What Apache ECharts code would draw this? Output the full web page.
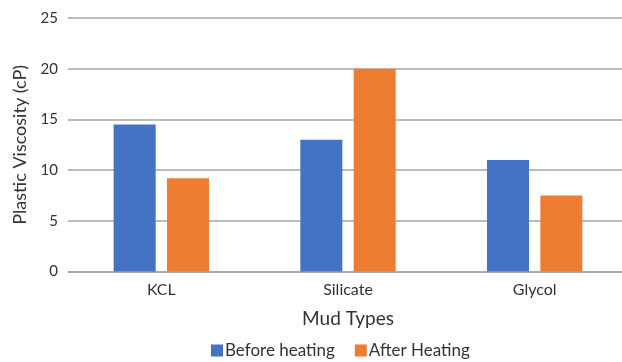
<!DOCTYPE html>
<html>
<head>
<meta charset="utf-8">
<script src="https://cdn.jsdelivr.net/npm/echarts@6/dist/echarts.min.js"></script>
<style>
  html, body { margin: 0; padding: 0; background: #fff; }
  #chart { width: 622px; height: 362px; }
</style>
</head>
<body>
<div id="chart"></div>
<script>
// Mud types on the x axis
const mudTypes = ['KCL', 'Silicate', 'Glycol'];
// Plastic viscosity (cP) before and after heating
const beforeHeating = [14.5, 13, 11];
const afterHeating = [9.2, 20, 7.5];
// Y axis range
const yMin = 0, yMax = 25, yStep = 5;

const font = 'Lato, "Open Sans", sans-serif';
const textColor = '#333333';

const chart = echarts.init(document.getElementById('chart'), null, { renderer: 'canvas' });
chart.setOption({
  animation: false,
  textStyle: { fontFamily: font },
  grid: { left: 68, top: 18, width: 560, height: 253.5, containLabel: false, outerBoundsMode: 'none' },
  legend: {
    top: 342,
    left: 211,
    padding: 0,
    itemWidth: 12,
    itemHeight: 12,
    itemGap: 20,
    icon: 'rect',
    textStyle: { fontFamily: font, fontSize: 17, color: textColor, padding: [0, 0, 0, -3] },
    data: ['Before heating', 'After Heating']
  },
  xAxis: {
    type: 'category',
    data: mudTypes,
    name: 'Mud Types',
    nameLocation: 'middle',
    nameGap: 38,
    nameTextStyle: { fontFamily: font, fontSize: 19, color: textColor },
    axisLine: { lineStyle: { color: '#A6A6A6', width: 1.5 } },
    axisTick: { show: false },
    axisLabel: { fontFamily: font, fontSize: 16, color: textColor, margin: 10 }
  },
  yAxis: {
    type: 'value',
    min: yMin,
    max: yMax,
    interval: yStep,
    name: 'Plastic Viscosity (cP)',
    nameLocation: 'middle',
    nameGap: 39,
    nameTextStyle: { fontFamily: font, fontSize: 18, color: textColor },
    axisLine: { show: false },
    axisTick: { show: false },
    axisLabel: { fontFamily: font, fontSize: 15, color: textColor, margin: 10 },
    splitLine: { lineStyle: { color: '#A6A6A6', width: 1.5 } }
  },
  series: [
    {
      name: 'Before heating',
      type: 'bar',
      data: beforeHeating,
      barWidth: 42,
      barGap: '27%',
      itemStyle: { color: '#4472C4' }
    },
    {
      name: 'After Heating',
      type: 'bar',
      data: afterHeating,
      barWidth: 42,
      itemStyle: { color: '#ED7D31' }
    }
  ]
});
</script>
</body>
</html>
